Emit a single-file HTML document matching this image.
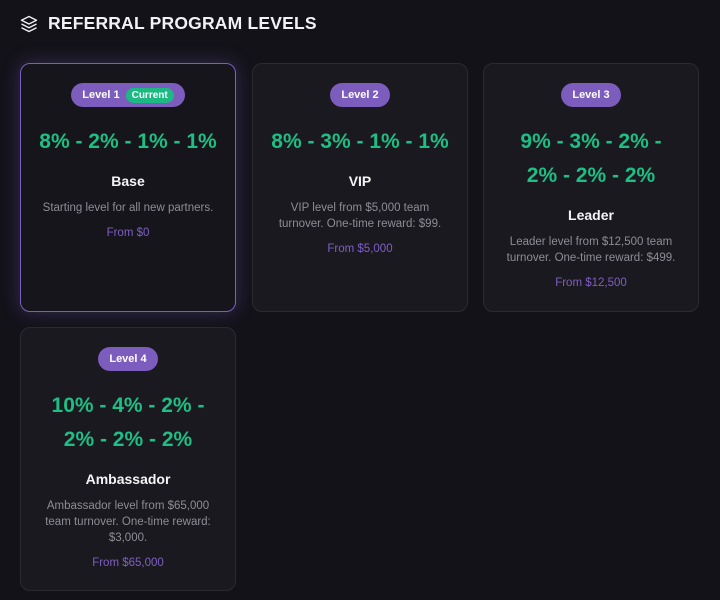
<!DOCTYPE html>
<html><head><style>
*{margin:0;padding:0;box-sizing:border-box}
body{width:720px;height:600px;background:#131219;font-family:"Liberation Sans",sans-serif;position:relative;overflow:hidden;color:#fff}
h1{position:absolute;left:48px;top:13px;font-size:17.5px;font-weight:bold;color:#f2f2f5;letter-spacing:0.2px}
.ic{position:absolute;left:20px;top:15px}
.card{position:absolute;width:216px;background:#1a191f;border:1px solid #2b2a31;border-radius:10px;text-align:center;padding-top:19px}
.cur{border-color:#7b5fc0;box-shadow:0 0 18px rgba(123,95,192,0.35);background:#16151b}
.badge{display:inline-flex;align-items:center;height:24px;border-radius:12px;background:#7c5cbd;color:#fff;font-size:11px;font-weight:bold;padding:0 11px;gap:6px}
.badge span{background:#1db983;border-radius:9px;padding:2px 6px;font-size:10px}
.rate{margin-top:18px;font-size:21px;font-weight:bold;color:#1dbf84;line-height:34px;white-space:nowrap}
.name{margin-top:13px;font-size:14px;font-weight:bold;line-height:18px;color:#f4f4f6}
.desc{margin-top:10px;font-size:11.5px;line-height:16px;color:#8e8c96;white-space:nowrap}
.from{margin-top:9px;font-size:11.5px;line-height:16px;color:#7f5fc4}
</style></head><body>
<svg class="ic" width="18" height="18" viewBox="0 0 24 24" fill="none" stroke="#eee" stroke-width="2" stroke-linejoin="round"><path d="M12 2 2 7l10 5 10-5-10-5z"/><path d="M2 12l10 5 10-5"/><path d="M2 17l10 5 10-5"/></svg>
<h1>REFERRAL PROGRAM LEVELS</h1>
<div class="card cur" style="left:20px;top:63px;height:249px">
<div class="badge">Level 1 <span>Current</span></div>
<div class="rate">8% - 2% - 1% - 1%</div>
<div class="name">Base</div>
<div class="desc">Starting level for all new partners.</div>
<div class="from">From $0</div>
</div>
<div class="card" style="left:252px;top:63px;height:249px">
<div class="badge">Level 2</div>
<div class="rate">8% - 3% - 1% - 1%</div>
<div class="name">VIP</div>
<div class="desc">VIP level from $5,000 team<br>turnover. One-time reward: $99.</div>
<div class="from">From $5,000</div>
</div>
<div class="card" style="left:483px;top:63px;height:249px">
<div class="badge">Level 3</div>
<div class="rate">9% - 3% - 2% -<br>2% - 2% - 2%</div>
<div class="name">Leader</div>
<div class="desc">Leader level from $12,500 team<br>turnover. One-time reward: $499.</div>
<div class="from">From $12,500</div>
</div>
<div class="card" style="left:20px;top:327px;height:264px">
<div class="badge">Level 4</div>
<div class="rate">10% - 4% - 2% -<br>2% - 2% - 2%</div>
<div class="name">Ambassador</div>
<div class="desc">Ambassador level from $65,000<br>team turnover. One-time reward:<br>$3,000.</div>
<div class="from">From $65,000</div>
</div>
</body></html>
